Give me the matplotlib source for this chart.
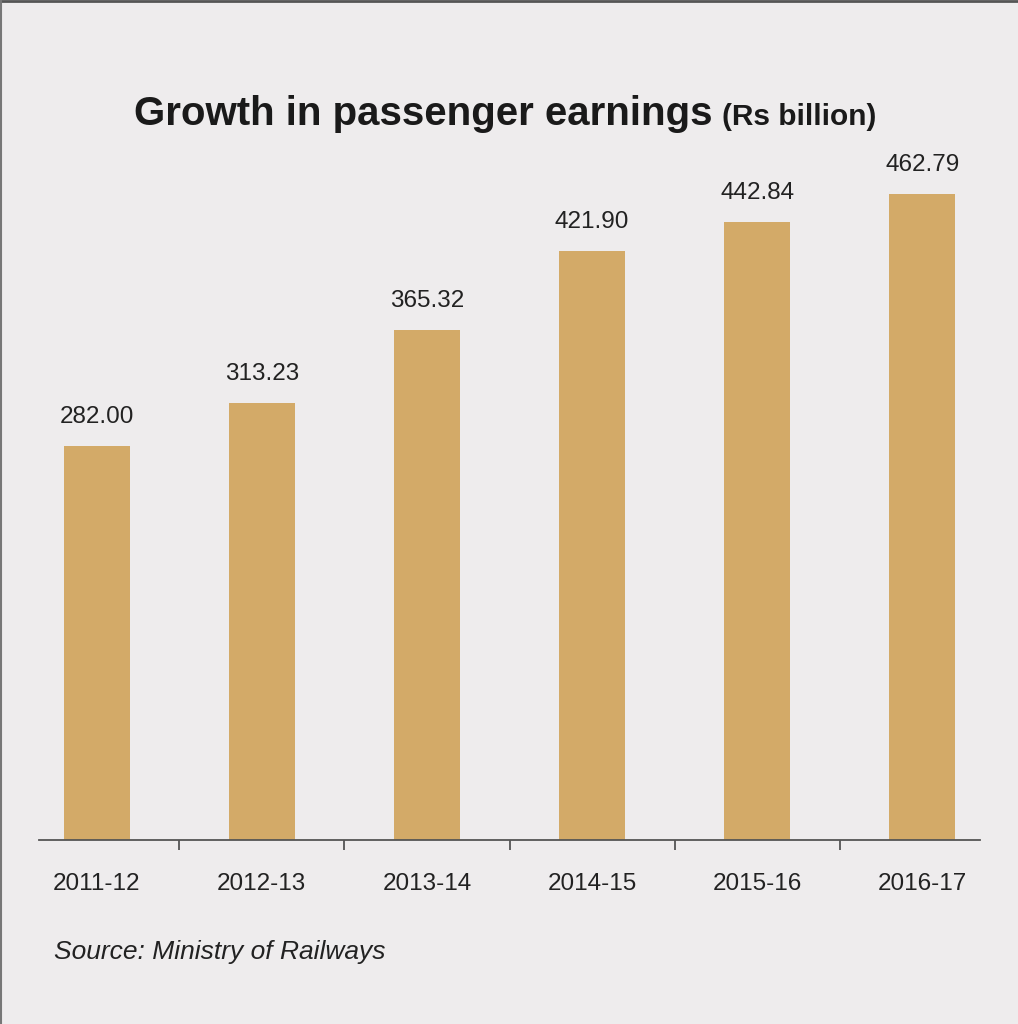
import matplotlib
matplotlib.use('Agg')
import matplotlib.pyplot as plt
import numpy as np

years = ['2011-12', '2012-13', '2013-14', '2014-15', '2015-16', '2016-17']
earnings = [282.00, 313.23, 365.32, 421.90, 442.84, 462.79]

bg = '#eeeced'
bar_col = '#d3aa68'
txt = '#222222'

plt.rcParams['font.family'] = ['Liberation Sans', 'DejaVu Sans']

fig = plt.figure(figsize=(10.18, 10.24), dpi=100, facecolor=bg)
W, H = 1018, 1024
ax = fig.add_axes([39 / W, (H - 840) / H, (980 - 39) / W, (840 - 150) / H])
ax.set_facecolor(bg)

x = np.arange(len(years))
ax.bar(x, earnings, width=0.4, color=bar_col, zorder=2)
for xi, v in zip(x, earnings):
    ax.annotate(f'{v:.2f}', (xi, v), xytext=(0, 13), textcoords='offset points',
                ha='center', va='bottom', fontsize=17.5, color=txt)

ax.set_xlim(-0.35, len(years) - 0.65)
ax.set_ylim(0, 690 / 1.396)

for s in ['top', 'right', 'left']:
    ax.spines[s].set_visible(False)
ax.spines['bottom'].set_color('#555555')
ax.spines['bottom'].set_linewidth(1.3)
ax.set_yticks([])
ax.set_xticks(x)
ax.set_xticklabels(years, fontsize=17.5, color=txt)
ax.tick_params(axis='x', which='major', length=0, pad=24)
ax.set_xticks(x[:-1] + 0.5, minor=True)
ax.tick_params(axis='x', which='minor', length=7, width=1.3, color='#555555', direction='out')

fig.text(712 / W, 1 - 125 / H, 'Growth in passenger earnings', ha='right', va='baseline',
         fontsize=29, fontweight='bold', color='#1a1a1a')
fig.text(722 / W, 1 - 125 / H, '(Rs billion)', ha='left', va='baseline',
         fontsize=21.5, fontweight='bold', color='#1a1a1a')
fig.text(54 / W, 1 - 959 / H, 'Source: Ministry of Railways', ha='left', va='baseline',
         fontsize=19, style='italic', color=txt)

# frame lines at top and left edge
fig.add_artist(plt.Line2D([0, 1], [1 - 1 / H, 1 - 1 / H], transform=fig.transFigure,
                          color='#555555', lw=2))
fig.add_artist(plt.Line2D([0.5 / W, 0.5 / W], [0, 1], transform=fig.transFigure,
                          color='#777777', lw=1.5))

plt.savefig('out.png', dpi=100, facecolor=bg)
